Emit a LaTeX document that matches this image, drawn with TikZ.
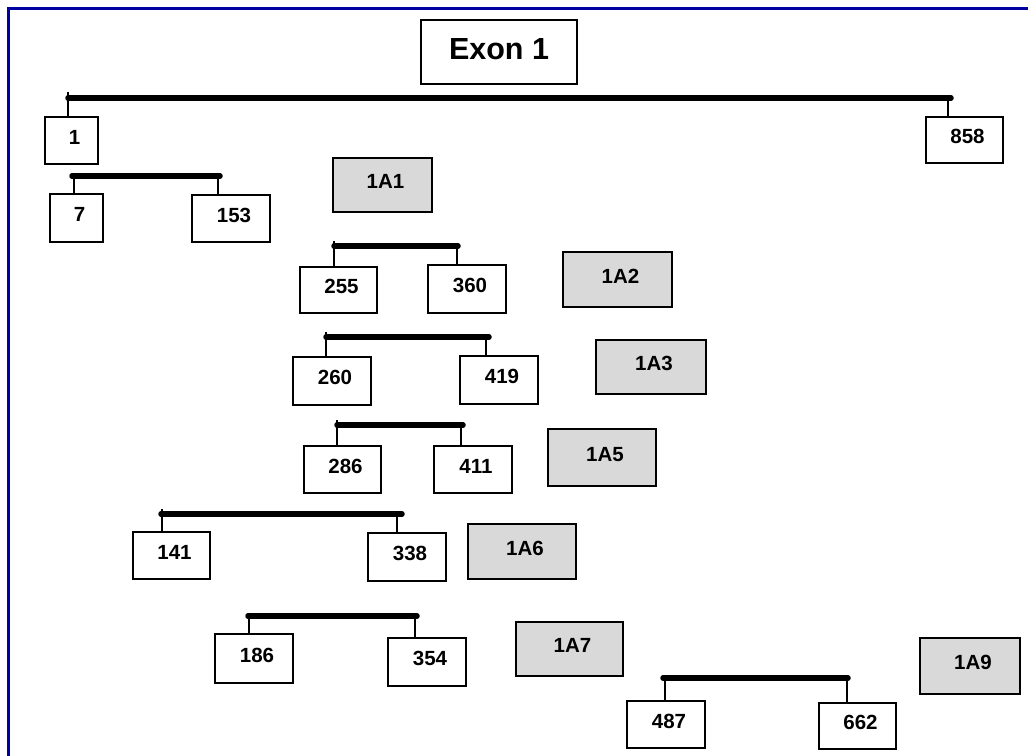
\documentclass[tikz,border=0pt]{standalone}
\usepackage{fontspec}
\setmainfont{Liberation Sans}
\definecolor{framecol}{RGB}{0,0,160}
\definecolor{grayfill}{RGB}{217,217,217}
\tikzset{
  numbox/.style={draw=black, line width=1.8pt, fill=white, inner sep=0pt,
    font=\bfseries\fontsize{20.5}{24}\selectfont, text depth=7pt,
    execute at begin node={\hspace*{6pt}}},
  labbox/.style={numbox, fill=grayfill, line width=2.2pt},
  titlebox/.style={draw=black, line width=2pt, fill=white, inner sep=0pt,
    font=\bfseries\fontsize{30.5}{34}\selectfont, text depth=6.6pt},
  barline/.style={line width=5.5pt, line cap=round, black},
  tickline/.style={line width=1.6pt, black}
}
\begin{document}
\begin{tikzpicture}[x=1pt,y=-1pt]
\useasboundingbox (0,0) rectangle (1028,755);
\fill[white] (0,0) rectangle (1028,755);
\draw[framecol, line width=3pt] (8,780) -- (8,8) -- (1050,8);

% title
\node[titlebox, minimum width=156pt, minimum height=64pt] (exon) at (499,52) {Exon 1};

% row 1
\node[numbox, minimum width=53pt, minimum height=47pt] (n1) at (71.5,140.5) {1};
\node[numbox, minimum width=77pt, minimum height=46pt] (n858) at (964.5,140) {858};
\coordinate (b1l) at (68,98); \coordinate (b1r) at (951,98);
\draw[barline] (b1l) -- (b1r);
\draw[tickline] ([yshift=6pt]b1l) -- (b1l |- n1.north);
\draw[tickline] (948,98) -- (948,0 |- n858.north);

% row 2
\node[numbox, minimum width=53pt, minimum height=48pt] (n7) at (76.5,218) {7};
\node[numbox, minimum width=78pt, minimum height=47pt] (n153) at (231,218.5) {153};
\node[labbox, minimum width=99pt, minimum height=54pt] (a1) at (382.5,185) {1A1};
\coordinate (b2l) at (72,176); \coordinate (b2r) at (220,176);
\draw[barline] (b2l) -- (b2r);
\draw[tickline] (74,176) -- (74,0 |- n7.north);
\draw[tickline] (218,176) -- (218,0 |- n153.north);

% row 3
\node[numbox, minimum width=77pt, minimum height=46pt] (n255) at (338.5,290) {255};
\node[numbox, minimum width=78pt, minimum height=48pt] (n360) at (467,289) {360};
\node[labbox, minimum width=109pt, minimum height=55pt] (a2) at (617.5,279.5) {1A2};
\coordinate (b3l) at (334,246); \coordinate (b3r) at (458,246);
\draw[barline] (b3l) -- (b3r);
\draw[tickline] ([yshift=5pt]b3l) -- (b3l |- n255.north);
\draw[tickline] (457,246) -- (457,0 |- n360.north);

% row 4
\node[numbox, minimum width=78pt, minimum height=48pt] (n260) at (332,381) {260};
\node[numbox, minimum width=78pt, minimum height=48pt] (n419) at (499,380) {419};
\node[labbox, minimum width=110pt, minimum height=54pt] (a3) at (651,367) {1A3};
\coordinate (b4l) at (326,337); \coordinate (b4r) at (489,337);
\draw[barline] (b4l) -- (b4r);
\draw[tickline] ([yshift=5pt]b4l) -- (b4l |- n260.north);
\draw[tickline] (486,337) -- (486,0 |- n419.north);

% row 5
\node[numbox, minimum width=77pt, minimum height=47pt] (n286) at (342.5,469.5) {286};
\node[numbox, minimum width=78pt, minimum height=47pt] (n411) at (473,469.5) {411};
\node[labbox, minimum width=108pt, minimum height=57pt] (a5) at (602,457.5) {1A5};
\coordinate (b5l) at (337,425); \coordinate (b5r) at (463,425);
\draw[barline] (b5l) -- (b5r);
\draw[tickline] ([yshift=5pt]b5l) -- (b5l |- n286.north);
\draw[tickline] (461,425) -- (461,0 |- n411.north);

% row 6
\node[numbox, minimum width=77pt, minimum height=47pt] (n141) at (171.5,555.5) {141};
\node[numbox, minimum width=78pt, minimum height=48pt] (n338) at (407,557) {338};
\node[labbox, minimum width=108pt, minimum height=55pt] (a6) at (522,551.5) {1A6};
\coordinate (b6l) at (161,514); \coordinate (b6r) at (402,514);
\draw[barline] (b6l) -- (b6r);
\draw[tickline] (162,509) -- (162,0 |- n141.north);
\draw[tickline] (397,514) -- (397,0 |- n338.north);

% row 7
\node[numbox, minimum width=78pt, minimum height=49pt] (n186) at (254,658.5) {186};
\node[numbox, minimum width=78pt, minimum height=48pt] (n354) at (427,662) {354};
\node[labbox, minimum width=107pt, minimum height=54pt] (a7) at (569.5,649) {1A7};
\coordinate (b7l) at (248,616); \coordinate (b7r) at (417,616);
\draw[barline] (b7l) -- (b7r);
\draw[tickline] (249,616) -- (249,0 |- n186.north);
\draw[tickline] (415,616) -- (415,0 |- n354.north);

% row 8
\node[numbox, minimum width=78pt, minimum height=47pt] (n487) at (666,724.5) {487};
\node[numbox, minimum width=77pt, minimum height=46pt] (n662) at (857.5,726) {662};
\node[labbox, minimum width=100pt, minimum height=56pt] (a9) at (970,666) {1A9};
\coordinate (b8l) at (663,678); \coordinate (b8r) at (848,678);
\draw[barline] (b8l) -- (b8r);
\draw[tickline] (665,678) -- (665,0 |- n487.north);
\draw[tickline] (847,678) -- (847,0 |- n662.north);
\end{tikzpicture}
\end{document}
